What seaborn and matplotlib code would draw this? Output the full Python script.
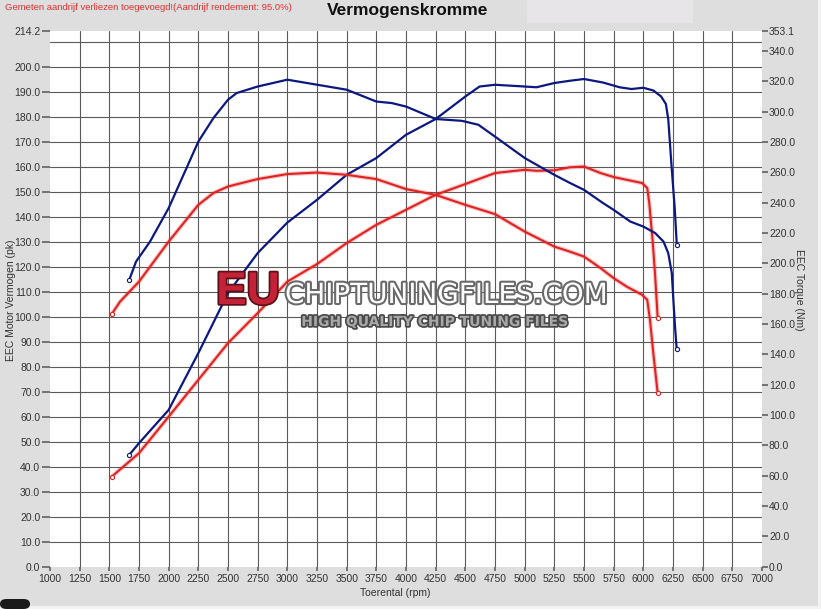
import numpy as np
import pandas as pd
import matplotlib
matplotlib.use("Agg")
import matplotlib.pyplot as plt
import matplotlib.patheffects as pe
from matplotlib.patches import Rectangle, FancyBboxPatch
import seaborn as sns

# --- data (rpm, pk / Nm) ---
blue_pk_rpm = [1668, 1750, 2000, 2250, 2500, 2750, 3000, 3250, 3500, 3750, 4000, 4250, 4500, 4620,
               4750, 5000, 5100, 5250, 5380, 5500, 5660, 5800, 5900, 6000, 6085, 6150, 6190, 6210,
               6235, 6265, 6282]
blue_pk = [44.7, 49.4, 62.7, 85.4, 109.4, 125.4, 137.6, 146.7, 156.7, 163.4, 172.7, 179.0, 188.0, 192.0,
           192.7, 192.0, 191.7, 193.4, 194.3, 195.0, 193.6, 191.7, 191.0, 191.5, 190.4, 188.0, 185.0, 179.0,
           162.0, 143.0, 128.7]

blue_nm_rpm = [1668, 1725, 1843, 2000, 2250, 2377, 2500, 2573, 2750, 3000, 3250, 3500, 3750, 3880,
               4000, 4250, 4470, 4610, 4750, 5000, 5250, 5380, 5500, 5660, 5750, 5890, 6000, 6100,
               6170, 6210, 6240, 6253, 6267, 6281]
blue_nm = [189.1, 201.1, 214.3, 236.4, 280.2, 295.7, 307.8, 312.2, 316.5, 321.0, 317.7, 314.4, 306.6, 305.6,
           303.3, 295.1, 293.9, 291.3, 283.5, 269.4, 258.3, 253.0, 248.4, 239.7, 235.2, 227.5, 224.2, 219.9,
           214.3, 206.7, 193.5, 175.9, 158.3, 143.4]

red_pk_rpm = [1520, 1750, 2000, 2250, 2500, 2750, 3000, 3250, 3500, 3750, 4000, 4250, 4500, 4750,
              5000, 5100, 5250, 5380, 5500, 5640, 5750, 5860, 5990, 6033, 6050, 6080, 6100, 6121]
red_pk = [36.0, 45.4, 60.0, 74.7, 89.4, 101.4, 114.0, 121.0, 129.4, 136.7, 142.7, 148.7, 153.0, 157.4,
          158.7, 158.3, 158.5, 159.7, 160.0, 157.4, 155.8, 154.7, 153.4, 151.4, 145.4, 129.4, 116.0, 99.4]

red_nm_rpm = [1520, 1590, 1750, 2000, 2250, 2377, 2500, 2750, 3000, 3250, 3500, 3750, 4000, 4250,
              4500, 4750, 5000, 5250, 5380, 5500, 5640, 5750, 5860, 5990, 6033, 6056, 6084, 6121]
red_nm = [166.5, 174.7, 187.9, 214.3, 238.5, 246.3, 250.6, 255.5, 258.8, 259.8, 258.3, 255.5, 248.9, 245.1,
          238.5, 232.4, 220.9, 211.0, 207.7, 204.4, 196.8, 190.2, 184.6, 179.2, 175.9, 162.7, 140.8, 114.4]

x_ticks = list(range(1000, 7001, 250))
left_ticks = [v * 10.0 for v in range(0, 21)] + [214.2]
right_ticks = [v * 20.0 for v in range(0, 18)] + [353.1]

BLUE = "#0c1880"
RED = "#e02222"
BG = "#dedede"

sns.set_theme(style="white")
plt.rcParams["font.family"] = ["Liberation Sans", "DejaVu Sans"]

fig = plt.figure(figsize=(8.21, 6.09), dpi=100, facecolor=BG)
ax = fig.add_axes([50 / 821, 1 - 566.7 / 609, 712 / 821, 535.7 / 609])
ax.set_facecolor("white")
ax2 = ax.twinx()

ax.set_xlim(1000, 7000)
ax.set_ylim(0, 214.2)
ax2.set_ylim(0, 353.1)

# grid
for xv in x_ticks[1:-1]:
    ax.axvline(xv, color="#5a5a5a", lw=0.8, zorder=0)
for yv in range(10, 211, 10):
    ax.axhline(yv, color="#5a5a5a", lw=0.8, zorder=0)

df_bp = pd.DataFrame({"rpm": blue_pk_rpm, "val": blue_pk})
df_rp = pd.DataFrame({"rpm": red_pk_rpm, "val": red_pk})
df_bn = pd.DataFrame({"rpm": blue_nm_rpm, "val": blue_nm})
df_rn = pd.DataFrame({"rpm": red_nm_rpm, "val": red_nm})

glow = [pe.Stroke(linewidth=3.2, foreground=RED, alpha=0.25), pe.Normal()]
sns.lineplot(data=df_rp, x="rpm", y="val", ax=ax, color=RED, lw=1.5, sort=False, estimator=None,
             path_effects=glow)
sns.lineplot(data=df_bp, x="rpm", y="val", ax=ax, color=BLUE, lw=1.6, sort=False, estimator=None)
sns.lineplot(data=df_rn, x="rpm", y="val", ax=ax2, color=RED, lw=1.5, sort=False, estimator=None,
             path_effects=glow)
sns.lineplot(data=df_bn, x="rpm", y="val", ax=ax2, color=BLUE, lw=1.6, sort=False, estimator=None)

# small end markers
for a, d, c in [(ax, df_rp, RED), (ax, df_bp, BLUE), (ax2, df_rn, RED), (ax2, df_bn, BLUE)]:
    ends = d.iloc[[0, -1]]
    a.scatter(ends["rpm"], ends["val"], s=9, facecolor="white", edgecolor=c, lw=0.8, zorder=5)

# ticks
ax.set_xticks(x_ticks)
ax.set_xticklabels([str(v) for v in x_ticks])
ax.set_yticks(left_ticks)
ax.set_yticklabels([f"{v:.1f}" for v in left_ticks])
ax2.set_yticks(right_ticks)
ax2.set_yticklabels([f"{v:.1f}" for v in right_ticks])
ax.tick_params(axis="x", length=3, pad=2, labelsize=7.5, colors="#666", labelcolor="#333", bottom=True)
ax.tick_params(axis="y", length=6, pad=1, labelsize=7.5, colors="#666", labelcolor="#333", left=True)
ax2.tick_params(axis="y", length=4, pad=1, labelsize=7.5, colors="#666", labelcolor="#333", right=True)
ax.set_xlabel("")
ax.set_ylabel("")
ax2.set_ylabel("")
for a in (ax, ax2):
    for s in a.spines.values():
        s.set_visible(False)

# labels and header
fig.text(11 / 821, 1 - 300 / 609, "EEC Motor Vermogen (pk)", rotation=90, ha="center", va="center",
         fontsize=7.5, color="#333")
fig.text(799 / 821, 1 - 290 / 609, "EEC Torque (Nm)", rotation=270, ha="center", va="center",
         fontsize=7.5, color="#333")
fig.text(395 / 821, 1 - 593 / 609, "Toerental (rpm)", ha="center", va="center", fontsize=7.5, color="#333")
fig.text(408 / 821, 1 - 11 / 609, "Vermogenskromme", ha="center", va="center", fontsize=12.5,
         fontweight="bold", color="#111")
fig.text(5 / 821, 1 - 8 / 609, "Gemeten aandrijf verliezen toegevoegd!(Aandrijf rendement: 95.0%)",
         ha="left", va="center", fontsize=6.8, color="#e03030")

fig.patches.append(Rectangle((527 / 821, 1 - 23 / 609), 166 / 821, 23 / 609, transform=fig.transFigure,
                             facecolor="#e7e5e7", edgecolor="none", zorder=0))
fig.patches.append(Rectangle((0, 0), 1, 3 / 609, transform=fig.transFigure,
                             facecolor="#f3f3f3", edgecolor="none", zorder=0))
fig.patches.append(Rectangle((818 / 821, 0), 3 / 821, 1, transform=fig.transFigure,
                             facecolor="#f3f3f3", edgecolor="none", zorder=0))
fig.patches.append(FancyBboxPatch((0, 0), 30 / 821, 10 / 609, boxstyle="round,pad=0,rounding_size=0.008",
                                  transform=fig.transFigure, facecolor="#1a1a1a", edgecolor="none", zorder=1))

# watermark
fig.text(248 / 821, 1 - 292 / 609, "EU", ha="center", va="center", fontsize=33, fontweight="bold",
         color="#c42236", zorder=10,
         path_effects=[pe.withStroke(linewidth=2.5, foreground="#5a1018")])
fig.text(285 / 821, 1 - 295 / 609, "CHIPTUNINGFILES.COM", ha="left", va="center", fontsize=20,
         family="DejaVu Sans", color="white", zorder=10,
         path_effects=[pe.withStroke(linewidth=3, foreground="#6a6a6a")])
fig.text(435 / 821, 1 - 322 / 609, "HIGH QUALITY CHIP TUNING FILES", ha="center", va="center", fontsize=10,
         family="DejaVu Sans", fontweight="bold", color="#a8a8a8", zorder=10,
         path_effects=[pe.withStroke(linewidth=2.5, foreground="#4a4a4a")])

fig.savefig("out.png", dpi=100, facecolor=BG)
